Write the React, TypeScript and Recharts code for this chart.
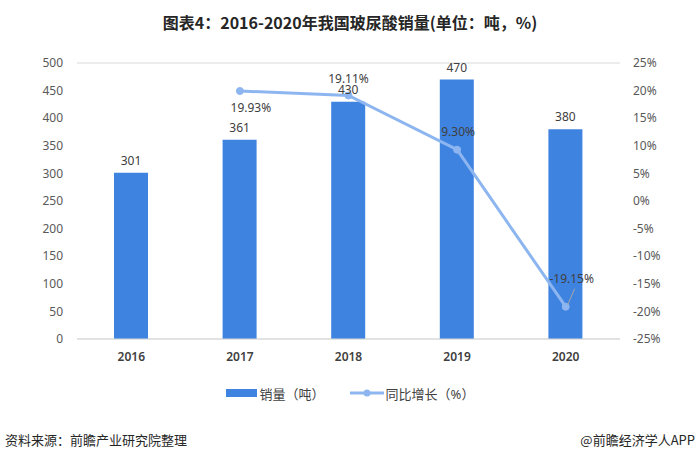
import React from "react";
import {
  ComposedChart,
  Bar,
  Line,
  XAxis,
  YAxis,
  CartesianGrid,
  LabelList,
} from "recharts";

// 2016-2020 hyaluronic acid sales (tonnes) and year-on-year growth (%)
const years = ["2016", "2017", "2018", "2019", "2020"];
const sales = [301, 361, 430, 470, 380];
const growth: (number | null)[] = [null, 19.93, 19.11, 9.3, -19.15];
const leftTicks = [0, 50, 100, 150, 200, 250, 300, 350, 400, 450, 500];
const rightTicks = [-25, -20, -15, -10, -5, 0, 5, 10, 15, 20, 25];

const data = years.map((year, i) => ({ year, sales: sales[i], growth: growth[i] }));

const BAR_COLOR = "#3F83E0";
const LINE_COLOR = "#8DB6F0";
const TEXT_COLOR = "#404040";
const FONT = "'Noto Sans', 'Noto Sans CJK SC', sans-serif";

// where each growth label sits relative to its point
const growthLabelPlacement: Record<number, { dx: number; dy: number; leader?: boolean }> = {
  1: { dx: 11, dy: 17 },
  2: { dx: 0, dy: -17 },
  3: { dx: 1, dy: -18 },
  4: { dx: 6, dy: -28, leader: true },
};

const GrowthLabel = (props: any) => {
  const { x, y, value } = props;
  if (value == null || x == null || y == null) return null;
  const idx = growth.indexOf(value);
  const p = growthLabelPlacement[idx] || { dx: 0, dy: -16 };
  const text = `${Number(value).toFixed(2)}%`;
  return (
    <g>
      {p.leader && (
        <line x1={x + 9} y1={y - 18} x2={x + 2} y2={y - 2} stroke="#A6A6A6" strokeWidth={1} />
      )}
      <text
        x={x + p.dx}
        y={y + p.dy}
        textAnchor="middle"
        dominantBaseline="central"
        fontSize={12}
        fill={TEXT_COLOR}
        fontFamily={FONT}
      >
        {text}
      </text>
    </g>
  );
};

const ChartLegend = () => (
  <div
    style={{
      position: "absolute",
      top: 383,
      left: 0,
      width: 700,
      height: 20,
      display: "flex",
      justifyContent: "center",
      alignItems: "center",
      fontFamily: FONT,
      fontSize: 13,
      color: TEXT_COLOR,
    }}
  >
    <span style={{ display: "inline-block", width: 31, height: 8, background: BAR_COLOR, marginRight: 3 }} />
    <span>销量（吨）</span>
    <span style={{ display: "inline-block", width: 25 }} />
    <svg width={34} height={10} style={{ marginRight: 2 }}>
      <line x1={0} y1={5} x2={34} y2={5} stroke={LINE_COLOR} strokeWidth={3} />
      <circle cx={17} cy={5} r={3.5} fill={LINE_COLOR} />
    </svg>
    <span>同比增长（%）</span>
  </div>
);

export default function App() {
  return (
    <div
      style={{
        position: "absolute",
        left: 0,
        top: 0,
        width: 700,
        height: 459,
        background: "#FFFFFF",
        overflow: "hidden",
      }}
    >
      <div
        style={{
          position: "absolute",
          top: 11,
          left: 0,
          width: 700,
          textAlign: "center",
          fontFamily: "'Noto Sans CJK SC', sans-serif",
          fontWeight: 700,
          fontSize: 16,
          color: "#262626",
          lineHeight: "22px",
        }}
      >
        图表4：2016-2020年我国玻尿酸销量(单位：吨，%)
      </div>

      <ComposedChart
        width={700}
        height={459}
        data={data}
        margin={{ top: 63, right: 0, bottom: 90, left: 0 }}
        barCategoryGap={0}
      >
        <CartesianGrid vertical={false} stroke="#D9D9D9" />
        <XAxis
          dataKey="year"
          tickLine={false}
          axisLine={{ stroke: "#D9D9D9" }}
          tickSize={0}
          tickMargin={13}
          height={30}
          tick={{ fontSize: 12, fill: TEXT_COLOR, fontFamily: FONT, fontWeight: 600 }}
        />
        <YAxis
          yAxisId="left"
          width={77}
          domain={[0, 500]}
          ticks={leftTicks}
          interval={0}
          tickLine={false}
          axisLine={false}
          tickSize={0}
          tickMargin={14}
          tick={{ fontSize: 12, fill: "#595959", fontFamily: FONT }}
        />
        <YAxis
          yAxisId="right"
          orientation="right"
          width={80}
          domain={[-25, 25]}
          ticks={rightTicks}
          interval={0}
          tickLine={false}
          axisLine={false}
          tickSize={0}
          tickMargin={13}
          tickFormatter={(v: number) => `${v}%`}
          tick={{ fontSize: 12, fill: "#595959", fontFamily: FONT, textAnchor: "start" }}
        />
        <Bar
          yAxisId="left"
          dataKey="sales"
          name="销量（吨）"
          fill={BAR_COLOR}
          barSize={34}
          isAnimationActive={false}
        >
          <LabelList
            dataKey="sales"
            position="top"
            offset={8}
            style={{ fontSize: 12, fill: TEXT_COLOR, fontFamily: FONT }}
          />
        </Bar>
        <Line
          yAxisId="right"
          dataKey="growth"
          name="同比增长（%）"
          stroke={LINE_COLOR}
          strokeWidth={3}
          dot={{ r: 3.5, fill: LINE_COLOR, stroke: LINE_COLOR, strokeWidth: 1 }}
          activeDot={false}
          isAnimationActive={false}
        >
          <LabelList dataKey="growth" content={GrowthLabel} />
        </Line>
      </ComposedChart>

      <ChartLegend />

      <div
        style={{
          position: "absolute",
          left: 5,
          top: 431,
          fontFamily: "'Noto Sans CJK SC', sans-serif",
          fontSize: 13,
          color: "#262626",
          lineHeight: "18px",
        }}
      >
        资料来源：前瞻产业研究院整理
      </div>
      <div
        style={{
          position: "absolute",
          right: 5,
          top: 431,
          fontFamily: "'Noto Sans CJK SC', sans-serif",
          fontSize: 13,
          color: "#262626",
          lineHeight: "18px",
        }}
      >
        @前瞻经济学人APP
      </div>
    </div>
  );
}
